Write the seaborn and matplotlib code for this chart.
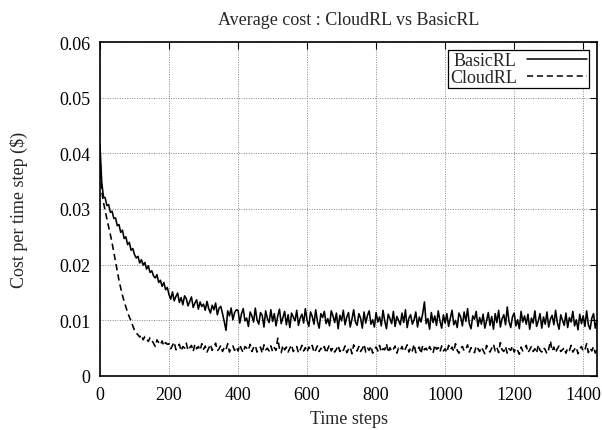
import matplotlib
matplotlib.use("Agg")
import matplotlib.pyplot as plt
from matplotlib.lines import Line2D
import seaborn as sns
import pandas as pd

time_steps = list(range(0, 1441, 5))

basic_rl = [
    0.0415, 0.0348, 0.0322, 0.0320, 0.0306, 0.0308, 0.0294, 0.0296, 0.0283, 0.0284,
    0.0270, 0.0272, 0.0258, 0.0262, 0.0247, 0.0250, 0.0236, 0.0240, 0.0226, 0.0229,
    0.0218, 0.0212, 0.0215, 0.0203, 0.0209, 0.0199, 0.0204, 0.0192, 0.0198, 0.0186,
    0.0189, 0.0180, 0.0176, 0.0182, 0.0168, 0.0172, 0.0161, 0.0168, 0.0155, 0.0159,
    0.0146, 0.0138, 0.0151, 0.0135, 0.0143, 0.0149, 0.0132, 0.0141, 0.0128, 0.0144,
    0.0139, 0.0126, 0.0134, 0.0142, 0.0123, 0.0131, 0.0137, 0.0120, 0.0133, 0.0125,
    0.0129, 0.0118, 0.0134, 0.0121, 0.0113, 0.0127, 0.0119, 0.0131, 0.0110, 0.0122,
    0.0125, 0.0112, 0.0098, 0.0082, 0.0117, 0.0108, 0.0122, 0.0101, 0.0114, 0.0119,
    0.0118, 0.0095, 0.0112, 0.0121, 0.0099, 0.0104, 0.0089, 0.0115, 0.0108, 0.0097,
    0.0122, 0.0101, 0.0093, 0.0114, 0.0109, 0.0088, 0.0117, 0.0103, 0.0096, 0.0119,
    0.0098, 0.0112, 0.0090, 0.0108, 0.0120, 0.0094, 0.0105, 0.0116, 0.0092, 0.0110,
    0.0087, 0.0113, 0.0106, 0.0099, 0.0118, 0.0091, 0.0104, 0.0111, 0.0095, 0.0121,
    0.0100, 0.0089, 0.0115, 0.0107, 0.0093, 0.0119, 0.0098, 0.0086, 0.0112, 0.0105,
    0.0116, 0.0094, 0.0103, 0.0090, 0.0117, 0.0108, 0.0096, 0.0113, 0.0085, 0.0109,
    0.0099, 0.0118, 0.0092, 0.0106, 0.0114, 0.0088, 0.0102, 0.0119, 0.0097, 0.0091,
    0.0112, 0.0104, 0.0086, 0.0115, 0.0095, 0.0109, 0.0117, 0.0093, 0.0101, 0.0088,
    0.0114, 0.0097, 0.0106, 0.0090, 0.0118, 0.0099, 0.0085, 0.0111, 0.0103, 0.0094,
    0.0116, 0.0089, 0.0107, 0.0100, 0.0092, 0.0113, 0.0096, 0.0119, 0.0087, 0.0104,
    0.0110, 0.0093, 0.0101, 0.0115, 0.0088, 0.0106, 0.0097, 0.0112, 0.0133, 0.0094,
    0.0103, 0.0084, 0.0114, 0.0096, 0.0108, 0.0091, 0.0117, 0.0099, 0.0086, 0.0110,
    0.0095, 0.0112, 0.0089, 0.0104, 0.0118, 0.0092, 0.0100, 0.0087, 0.0113, 0.0106,
    0.0090, 0.0115, 0.0098, 0.0121, 0.0094, 0.0085, 0.0108, 0.0102, 0.0116, 0.0089,
    0.0105, 0.0093, 0.0111, 0.0086, 0.0099, 0.0114, 0.0091, 0.0107, 0.0084, 0.0112,
    0.0096, 0.0118, 0.0088, 0.0103, 0.0110, 0.0092, 0.0124, 0.0098, 0.0087, 0.0106,
    0.0113, 0.0090, 0.0101, 0.0085, 0.0116, 0.0097, 0.0108, 0.0093, 0.0111, 0.0084,
    0.0104, 0.0095, 0.0117, 0.0089, 0.0099, 0.0112, 0.0086, 0.0106, 0.0093, 0.0115,
    0.0088, 0.0102, 0.0109, 0.0092, 0.0118, 0.0096, 0.0084, 0.0110, 0.0100, 0.0091,
    0.0113, 0.0087, 0.0105, 0.0097, 0.0116, 0.0090, 0.0101, 0.0083, 0.0111, 0.0094,
    0.0108, 0.0089, 0.0117, 0.0092, 0.0084, 0.0104, 0.0112, 0.0086, 0.0099,
]

cloud_rl = [
    0.0385, 0.0332, 0.0312, 0.0297, 0.0282, 0.0268, 0.0254, 0.0239, 0.0222, 0.0205,
    0.0188, 0.0172, 0.0158, 0.0145, 0.0134, 0.0124, 0.0114, 0.0106, 0.0099, 0.0090,
    0.0082, 0.0077, 0.0074, 0.0070, 0.0074, 0.0065, 0.0071, 0.0067, 0.0062, 0.0069,
    0.0064, 0.0059, 0.0053, 0.0065, 0.0060, 0.0056, 0.0063, 0.0054, 0.0060, 0.0057,
    0.0058, 0.0049, 0.0055, 0.0061, 0.0047, 0.0052, 0.0057, 0.0045, 0.0053, 0.0050,
    0.0059, 0.0046, 0.0051, 0.0055, 0.0044, 0.0057, 0.0049, 0.0053, 0.0046, 0.0058,
    0.0048, 0.0054, 0.0043, 0.0050, 0.0057, 0.0046, 0.0052, 0.0059, 0.0045, 0.0049,
    0.0055, 0.0044, 0.0051, 0.0047, 0.0058, 0.0043, 0.0050, 0.0054, 0.0046, 0.0052,
    0.0045, 0.0056, 0.0048, 0.0042, 0.0053, 0.0050, 0.0046, 0.0057, 0.0044, 0.0051,
    0.0055, 0.0043, 0.0049, 0.0052, 0.0041, 0.0056, 0.0047, 0.0050, 0.0045, 0.0054,
    0.0044, 0.0051, 0.0046, 0.0068, 0.0049, 0.0042, 0.0055, 0.0047, 0.0052, 0.0043,
    0.0050, 0.0056, 0.0044, 0.0048, 0.0053, 0.0041, 0.0047, 0.0055, 0.0045, 0.0051,
    0.0043, 0.0052, 0.0048, 0.0055, 0.0042, 0.0047, 0.0054, 0.0044, 0.0050, 0.0046,
    0.0053, 0.0041, 0.0049, 0.0056, 0.0045, 0.0051, 0.0043, 0.0048, 0.0055, 0.0044,
    0.0050, 0.0046, 0.0054, 0.0042, 0.0048, 0.0052, 0.0040, 0.0056, 0.0047, 0.0045,
    0.0053, 0.0044, 0.0049, 0.0057, 0.0043, 0.0050, 0.0046, 0.0054, 0.0041, 0.0048,
    0.0052, 0.0045, 0.0055, 0.0043, 0.0049, 0.0047, 0.0058, 0.0042, 0.0051, 0.0044,
    0.0048, 0.0054, 0.0041, 0.0050, 0.0046, 0.0053, 0.0044, 0.0049, 0.0056, 0.0043,
    0.0051, 0.0045, 0.0057, 0.0042, 0.0048, 0.0052, 0.0040, 0.0055, 0.0047, 0.0050,
    0.0044, 0.0053, 0.0046, 0.0041, 0.0056, 0.0048, 0.0051, 0.0043, 0.0054, 0.0045,
    0.0049, 0.0042, 0.0055, 0.0047, 0.0052, 0.0044, 0.0058, 0.0046, 0.0041, 0.0050,
    0.0053, 0.0045, 0.0048, 0.0056, 0.0043, 0.0051, 0.0047, 0.0042, 0.0054, 0.0049,
    0.0044, 0.0052, 0.0046, 0.0040, 0.0055, 0.0048, 0.0043, 0.0050, 0.0057, 0.0045,
    0.0051, 0.0042, 0.0060, 0.0047, 0.0044, 0.0053, 0.0041, 0.0049, 0.0046, 0.0054,
    0.0043, 0.0050, 0.0046, 0.0039, 0.0052, 0.0045, 0.0048, 0.0055, 0.0042, 0.0047,
    0.0053, 0.0044, 0.0049, 0.0041, 0.0056, 0.0046, 0.0043, 0.0051, 0.0047, 0.0040,
    0.0048, 0.0063, 0.0045, 0.0052, 0.0042, 0.0049, 0.0054, 0.0044, 0.0047, 0.0051,
    0.0041, 0.0050, 0.0046, 0.0055, 0.0043, 0.0048, 0.0052, 0.0040, 0.0049, 0.0053,
    0.0044, 0.0047, 0.0058, 0.0042, 0.0050, 0.0045, 0.0053, 0.0041, 0.0048,
]

series_names = ["BasicRL", "CloudRL"]
x_ticks = [0, 200, 400, 600, 800, 1000, 1200, 1400]
y_ticks = [0, 0.01, 0.02, 0.03, 0.04, 0.05, 0.06]
y_tick_labels = ["0", "0.01", "0.02", "0.03", "0.04", "0.05", "0.06"]

df = pd.DataFrame({
    "Time steps": time_steps * 2,
    "cost": basic_rl + cloud_rl,
    "series": [series_names[0]] * len(basic_rl) + [series_names[1]] * len(cloud_rl),
})

sns.set_style("white")
plt.rcParams["font.family"] = ["Liberation Serif", "DejaVu Serif"]
plt.rcParams["font.size"] = 13

fig = plt.figure(figsize=(6.02, 4.31), dpi=100)
ax = fig.add_axes([100 / 602, 1 - 377 / 431, 497 / 602, 334 / 431])

sns.lineplot(data=df, x="Time steps", y="cost", hue="series", style="series",
             palette={"BasicRL": "black", "CloudRL": "black"},
             dashes={"BasicRL": "", "CloudRL": (4, 2.5)},
             linewidth=1.15, ax=ax, legend=False, estimator=None)

ax.set_xlim(0, 1440)
ax.set_ylim(0, 0.06)
ax.set_xticks(x_ticks)
ax.set_xticklabels([str(v) for v in x_ticks])
ax.set_yticks(y_ticks)
ax.set_yticklabels(y_tick_labels)
ax.grid(True, color="#888888", linestyle=(0, (1, 1.5)), linewidth=0.7)
ax.set_axisbelow(True)
ax.tick_params(direction="in", length=5, width=0.8, top=True, right=True,
               labelsize=13, colors="black", pad=7)
for s in ax.spines.values():
    s.set_visible(True)
    s.set_color("black")
    s.set_linewidth(1.2)

ax.set_title("Average cost : CloudRL vs BasicRL", fontsize=13, pad=13)
ax.set_xlabel("Time steps", fontsize=13, labelpad=5)
ax.set_ylabel("Cost per time step ($)", fontsize=13, labelpad=22)

handles = [Line2D([], [], color="black", linewidth=1.1),
           Line2D([], [], color="black", linewidth=1.1, dashes=(4, 2.5))]
leg = ax.legend(handles, series_names, loc="upper right",
                markerfirst=False, frameon=True, fancybox=False,
                edgecolor="black", framealpha=1, borderaxespad=0.45,
                handlelength=3.3, handletextpad=0.6, borderpad=0.1,
                labelspacing=0.0, fontsize=13)
leg.get_frame().set_linewidth(0.9)

fig.savefig("out.png", dpi=100)
